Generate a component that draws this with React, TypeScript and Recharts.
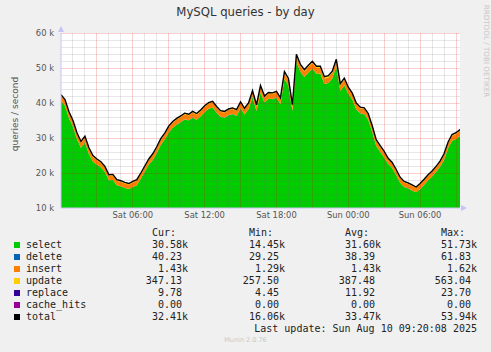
import { ComposedChart, Area, Line, XAxis, YAxis, CartesianGrid, ReferenceLine } from 'recharts'

// 5-min munin samples, read every 20 min (values in thousands of queries/s)
const select = [
  40.6, 39.2, 35.7, 33.2, 29.7, 27.2, 28.7, 25.4, 23.2, 22.4,
  21.6, 20.3, 17.9, 18.0, 16.5, 16.2, 15.7, 15.4, 16.0, 16.5,
  18.4, 20.4, 22.4, 23.7, 25.7, 28.0, 29.6, 31.6, 32.9, 33.8,
  34.5, 35.3, 35.0, 35.8, 35.2, 36.2, 37.4, 38.3, 38.7, 37.2,
  36.0, 35.8, 36.5, 36.8, 36.3, 38.5, 36.7, 38.2, 41.7, 37.7,
  42.9, 40.2, 41.2, 41.1, 41.5, 39.7, 46.9, 44.9, 37.7, 51.7,
  48.9, 47.4, 48.7, 49.8, 48.4, 48.4, 45.4, 45.7, 47.0, 50.4,
  43.4, 45.0, 42.7, 41.0, 38.2, 37.0, 36.8, 35.2, 31.7, 27.7,
  26.0, 24.4, 22.6, 21.4, 19.4, 17.2, 16.0, 15.6, 15.0, 14.5,
  15.4, 16.6, 17.9, 19.0, 20.3, 21.8, 23.7, 27.0, 29.2, 29.7,
  30.6,
]
const del = [
  .05, .05, .04, .04, .04, .04, .04, .04, .04, .03,
  .03, .03, .03, .03, .03, .03, .03, .03, .03, .03,
  .03, .03, .03, .04, .04, .04, .04, .04, .04, .04,
  .04, .04, .04, .04, .04, .04, .04, .04, .04, .04,
  .04, .04, .04, .04, .04, .04, .04, .04, .05, .04,
  .05, .04, .04, .04, .05, .04, .06, .05, .04, .06,
  .05, .05, .05, .06, .05, .05, .05, .05, .05, .06,
  .05, .05, .05, .04, .04, .04, .04, .04, .04, .04,
  .04, .04, .03, .03, .03, .03, .03, .03, .03, .03,
  .03, .03, .03, .03, .03, .03, .04, .04, .04, .04,
  .04,
]
const insert = [
  1.43, 1.44, 1.42, 1.41, 1.40, 1.39, 1.40, 1.38, 1.36, 1.31,
  1.31, 1.30, 1.29, 1.30, 1.29, 1.29, 1.29, 1.29, 1.29, 1.30,
  1.30, 1.31, 1.33, 1.36, 1.38, 1.40, 1.41, 1.42, 1.42, 1.43,
  1.43, 1.44, 1.43, 1.44, 1.43, 1.44, 1.45, 1.45, 1.46, 1.45,
  1.44, 1.44, 1.45, 1.45, 1.44, 1.46, 1.45, 1.46, 1.48, 1.45,
  1.55, 1.47, 1.48, 1.48, 1.48, 1.47, 1.56, 1.55, 1.45, 1.62,
  1.58, 1.57, 1.58, 1.60, 1.58, 1.58, 1.55, 1.55, 1.57, 1.60,
  1.54, 1.55, 1.50, 1.48, 1.46, 1.45, 1.45, 1.44, 1.42, 1.40,
  1.39, 1.38, 1.32, 1.31, 1.30, 1.29, 1.29, 1.29, 1.29, 1.29,
  1.29, 1.29, 1.30, 1.30, 1.31, 1.32, 1.36, 1.39, 1.41, 1.42,
  1.43,
]
const update = [
  .40, .39, .37, .36, .35, .34, .35, .33, .32, .28,
  .28, .27, .26, .27, .26, .26, .26, .26, .26, .27,
  .27, .28, .29, .31, .33, .35, .36, .37, .37, .38,
  .38, .39, .38, .39, .38, .39, .40, .40, .41, .40,
  .39, .39, .40, .40, .39, .41, .40, .41, .44, .40,
  .47, .42, .43, .43, .43, .42, .50, .48, .40, .56,
  .52, .50, .51, .53, .51, .51, .48, .48, .50, .53,
  .47, .48, .44, .43, .41, .40, .40, .39, .37, .35,
  .34, .33, .29, .28, .27, .26, .26, .26, .26, .26,
  .26, .27, .28, .29, .30, .31, .32, .34, .35, .35,
  .35,
]
const replace = [
  .01, .01, .01, .01, .01, .01, .01, .01, .01, .005,
  .005, .005, .005, .005, .005, .005, .005, .005, .005, .005,
  .005, .005, .005, .01, .01, .01, .01, .01, .01, .01,
  .01, .01, .01, .01, .01, .01, .01, .01, .01, .01,
  .01, .01, .01, .01, .01, .01, .01, .01, .01, .01,
  .02, .01, .01, .01, .01, .01, .02, .02, .01, .024,
  .02, .02, .02, .02, .02, .02, .02, .02, .02, .02,
  .02, .02, .01, .01, .01, .01, .01, .01, .01, .01,
  .01, .01, .005, .005, .005, .005, .005, .005, .005, .005,
  .005, .005, .005, .005, .005, .005, .01, .01, .01, .01,
  .01,
]
const total = [
  42.4, 41.0, 37.5, 35.0, 31.5, 29.0, 30.5, 27.2, 25.0, 24.0,
  23.2, 21.9, 19.5, 19.6, 18.1, 17.8, 17.3, 17.0, 17.6, 18.1,
  20.0, 22.0, 24.0, 25.5, 27.5, 29.8, 31.4, 33.4, 34.7, 35.6,
  36.3, 37.1, 36.8, 37.6, 37.0, 38.0, 39.2, 40.1, 40.5, 39.0,
  37.8, 37.6, 38.3, 38.6, 38.1, 40.3, 38.5, 40.0, 43.5, 39.5,
  45.0, 42.0, 43.0, 42.9, 43.3, 41.5, 49.0, 47.0, 39.5, 53.9,
  51.0, 49.5, 50.8, 51.9, 50.5, 50.5, 47.5, 47.8, 49.1, 52.5,
  45.5, 47.1, 44.5, 42.8, 40.0, 38.8, 38.6, 37.0, 33.5, 29.5,
  27.8, 26.2, 24.2, 23.0, 21.0, 18.8, 17.6, 17.2, 16.6, 16.0,
  17.0, 18.2, 19.5, 20.6, 21.9, 23.4, 25.5, 28.8, 31.0, 31.5,
  32.4,
]

// minutes since Sat 00:00
const timeTicks = [360, 720, 1080, 1440, 1800]
const timeLabels = ['Sat 06:00', 'Sat 12:00', 'Sat 18:00', 'Sun 00:00', 'Sun 06:00']
const yTicks = [10, 20, 30, 40, 50, 60]

const legendNames = ['select', 'delete', 'insert', 'update', 'replace', 'cache_hits', 'total']
const legendColors = ['#00CC00', '#0066B3', '#FF8000', '#FFCC00', '#330099', '#990099', '#000000']
const curVals = ['30.58k', '40.23 ', '1.43k', '347.13 ', '9.78 ', '0.00 ', '32.41k']
const minVals = ['14.45k', '29.25 ', '1.29k', '257.50 ', '4.45 ', '0.00 ', '16.06k']
const avgVals = ['31.60k', '38.39 ', '1.43k', '387.48 ', '11.92 ', '0.00 ', '33.47k']
const maxVals = ['51.73k', '61.83 ', '1.62k', '563.04 ', '23.70 ', '0.00 ', '53.94k']

const data = total.map((v, i) => ({
  t: i * 20,
  select: select[i],
  delete: del[i],
  insert: insert[i],
  update: update[i],
  replace: replace[i],
  total: v,
}))

// grid: minor every hour / 2k, major every 3h / 10k
const hours = Array.from({ length: 33 }, (_, i) => (i + 1) * 60)
const minorX = hours.filter(m => m % 180 !== 0)
const majorX = hours.filter(m => m % 180 === 0)
const minorY = [12, 14, 16, 18, 22, 24, 26, 28, 32, 34, 36, 38, 42, 44, 46, 48, 52, 54, 56, 58]
const majorY = [20, 30, 40, 50, 60]

const MINOR = 'rgba(110,110,110,0.17)'
const MAJOR = 'rgba(240,0,0,0.19)'
const AXIS = '#c4c4f4'
const SANS = '"DejaVu Sans", sans-serif'
const MONO = '"DejaVu Sans Mono", monospace'

const cols = [
  { head: 'Cur:  ', vals: curVals, right: 188 },
  { head: 'Min:  ', vals: minVals, right: 285 },
  { head: 'Avg:  ', vals: avgVals, right: 381 },
  { head: 'Max:  ', vals: maxVals, right: 477 },
]

const rowTop = (r: number) => 227 + r * 12

export default function App() {
  return (
    <div style={{ position: 'absolute', left: 0, top: 0, width: 491, height: 352, background: '#f0f0f0', overflow: 'hidden' }}>
      <style>{'.recharts-reference-line line { shape-rendering: crispEdges; }'}</style>
      <ComposedChart width={491} height={352} data={data} margin={{ top: 33, right: 31, bottom: 124, left: 11 }}>
        <CartesianGrid fill="#ffffff" horizontal={false} vertical={false} />
        <XAxis
          type="number"
          dataKey="t"
          domain={[0, 2000]}
          ticks={timeTicks}
          tickFormatter={(v: number) => timeLabels[timeTicks.indexOf(v)] ?? ''}
          tick={{ fill: '#555', fontSize: 8.4, fontFamily: SANS }}
          tickLine={false}
          tickSize={0}
          tickMargin={4}
          axisLine={{ stroke: AXIS }}
          height={20}
          allowDataOverflow
        />
        <YAxis
          type="number"
          domain={[10, 60]}
          ticks={yTicks}
          tickFormatter={(v: number) => `${v} k`}
          tick={{ fill: '#555', fontSize: 8.4, fontFamily: SANS }}
          tickLine={false}
          tickSize={0}
          tickMargin={7}
          axisLine={{ stroke: AXIS }}
          width={50}
          allowDataOverflow
        />
        <Area type="linear" dataKey="select" stackId="q" stroke="none" fill="#00CC00" fillOpacity={1} isAnimationActive={false} />
        <Area type="linear" dataKey="delete" stackId="q" stroke="none" fill="#0066B3" fillOpacity={1} isAnimationActive={false} />
        <Area type="linear" dataKey="insert" stackId="q" stroke="none" fill="#FF8000" fillOpacity={1} isAnimationActive={false} />
        <Area type="linear" dataKey="update" stackId="q" stroke="none" fill="#FFCC00" fillOpacity={1} isAnimationActive={false} />
        <Area type="linear" dataKey="replace" stackId="q" stroke="none" fill="#330099" fillOpacity={1} isAnimationActive={false} />
        {minorY.map(v => <ReferenceLine key={'my' + v} y={v} stroke={MINOR} strokeWidth={1} />)}
        {minorX.map(m => <ReferenceLine key={'mx' + m} x={m} stroke={MINOR} strokeWidth={1} />)}
        {majorY.map(v => <ReferenceLine key={'My' + v} y={v} stroke={MAJOR} strokeWidth={1} />)}
        {majorX.map(m => <ReferenceLine key={'Mx' + m} x={m} stroke={MAJOR} strokeWidth={1} />)}
        <Line type="linear" dataKey="total" stroke="#000" strokeWidth={1.4} dot={false} isAnimationActive={false} />
      </ComposedChart>

      {/* axis arrows */}
      <svg width={491} height={352} style={{ position: 'absolute', left: 0, top: 0, pointerEvents: 'none' }}>
        <polygon points="58,32 64,32 61,26" fill={AXIS} />
        <polygon points="461,205 461,211 467,208" fill={AXIS} />
      </svg>

      <div style={{ position: 'absolute', left: 0, width: 491, top: 5, textAlign: 'center', fontFamily: SANS, fontSize: 11.7, lineHeight: '14px', color: '#333' }}>
        MySQL queries - by day
      </div>
      <div style={{ position: 'absolute', left: -45, top: 108, width: 120, textAlign: 'center', transform: 'rotate(-90deg)', fontFamily: SANS, fontSize: 9, lineHeight: '12px', color: '#555' }}>
        queries / second
      </div>
      <div style={{ position: 'absolute', left: 436, top: 46, width: 100, textAlign: 'center', transform: 'rotate(90deg)', fontFamily: SANS, fontSize: 7.2, lineHeight: '10px', color: '#c8c8c8' }}>
        RRDTOOL / TOBI OETIKER
      </div>

      <div style={{ fontFamily: MONO, fontSize: 10, lineHeight: '12px', color: '#222', whiteSpace: 'pre' }}>
        {cols.map(c => (
          <div key={c.head} style={{ position: 'absolute', right: 491 - c.right, top: rowTop(0), textAlign: 'right' }}>{c.head}</div>
        ))}
        {legendNames.map((name, r) => (
          <div key={name}>
            <div style={{ position: 'absolute', left: 14, top: rowTop(r + 1) + 3, width: 6, height: 6, background: legendColors[r] }} />
            <div style={{ position: 'absolute', left: 26, top: rowTop(r + 1) }}>{name}</div>
            {cols.map(c => (
              <div key={c.head} style={{ position: 'absolute', right: 491 - c.right, top: rowTop(r + 1), textAlign: 'right' }}>{c.vals[r]}</div>
            ))}
          </div>
        ))}
        <div style={{ position: 'absolute', right: 14, top: rowTop(8) }}>Last update: Sun Aug 10 09:20:08 2025</div>
      </div>
      <div style={{ position: 'absolute', left: 0, width: 491, top: 336, textAlign: 'center', fontFamily: SANS, fontSize: 6.5, lineHeight: '8px', color: '#c8c8c8' }}>
        Munin 2.0.76
      </div>
    </div>
  )
}
